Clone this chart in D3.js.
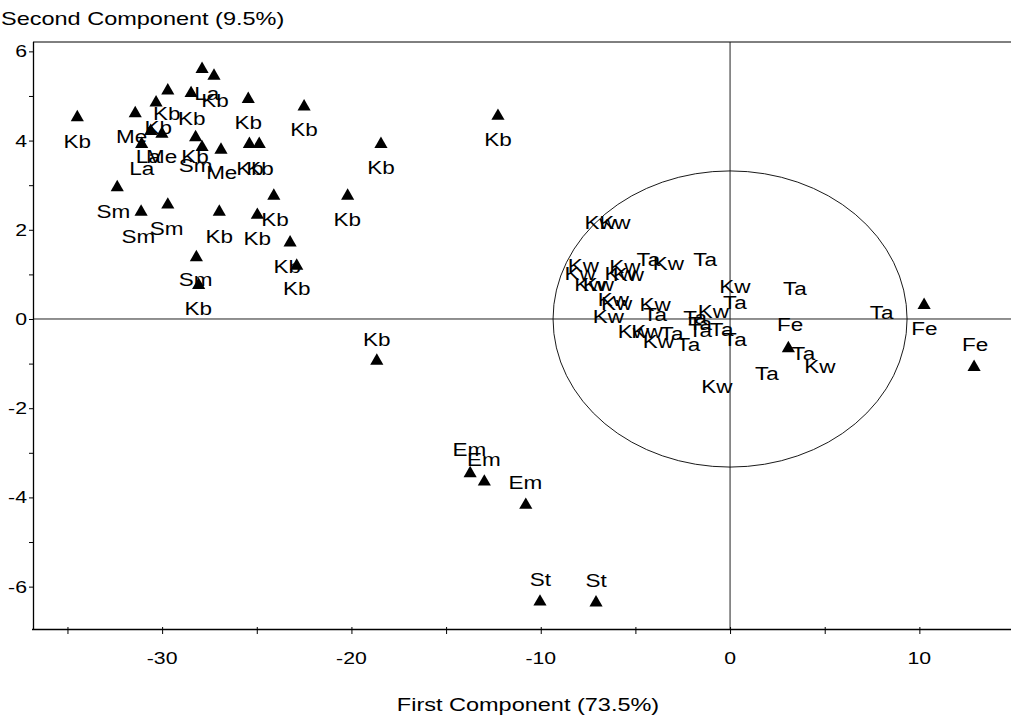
<!DOCTYPE html>
<html>
<head>
<meta charset="utf-8">
<script src="https://cdn.jsdelivr.net/npm/d3@7"></script>
<style>
  html, body { margin: 0; padding: 0; background: #fff; }
  svg { display: block; }
  text { font-family: "Liberation Sans", Arial, sans-serif; fill: #000; }
</style>
</head>
<body>
<svg id="chart" width="1011" height="719"></svg>
<script>
// ---- data (PCA scores) ----
const markerX = [-34.48,-31.42,-30.32,-29.70,-28.47,-27.89,-27.26,-25.45,-22.50,-30.60,-30.01,-28.23,-31.08,-27.89,-26.89,-25.39,-24.87,-32.37,-31.11,-29.70,-26.98,-24.10,-24.97,-20.20,-23.24,-22.89,-28.19,-28.07,-12.26,-18.44,-18.66,-13.73,-12.98,-10.79,-10.04,-7.08,3.08,10.25,12.89];
const markerY = [4.52,4.61,4.85,5.12,5.06,5.60,5.45,4.93,4.76,4.21,4.15,4.07,3.92,3.85,3.79,3.92,3.92,2.95,2.40,2.56,2.40,2.76,2.33,2.76,1.71,1.19,1.38,0.76,4.55,3.92,-0.94,-3.46,-3.65,-4.17,-6.34,-6.36,-0.66,0.31,-1.08];

const labelText = ["Kb","Me","Kb","Kb","Kb","La","Kb","Kb","Kb","La","La","Me","Kb","Sm","Me","Kb","Kb","Sm","Sm","Sm","Kb","Kb","Kb","Kb","Kb","Kb","Sm","Kb","Kb","Kb","Kb","Em","Em","Em","St","St","Fe","Fe","Ta",
  "Kw","Kw","Kw","Kw","Kw","Kw","Kw","Kw","Kw","Ta","Kw","Ta","Kw","Kw","Kw","Ta","Kw","Kw","Ta","Kw","Ta","Ta","Kw","Kw","Ta","Kw","Ta","Ta","Ta","Ta","Ta","Fe","Ta","Kw","Ta","Kw"];
const labelX = [-34.48,-31.61,-29.76,-28.44,-30.20,-27.64,-27.21,-25.45,-22.50,-31.08,-30.73,-30.02,-28.26,-28.23,-26.85,-25.36,-24.83,-32.58,-31.26,-29.76,-26.98,-24.97,-24.04,-20.22,-23.39,-22.89,-28.23,-28.09,-12.26,-18.44,-18.66,-13.77,-13.00,-10.81,-10.02,-7.08,10.26,12.94,8.01,
  -6.87,-6.08,-7.75,-7.92,-7.40,-6.96,-5.55,-5.37,-5.81,-4.32,-3.26,-1.32,-6.16,-5.99,-3.96,-3.96,-6.43,0.26,0.26,-0.88,-1.85,-1.58,-5.11,-4.40,-3.08,-3.79,-2.20,-1.58,-0.44,0.26,3.43,3.17,3.87,4.75,1.94,-0.70];
const labelY = [3.98,4.09,4.61,4.48,4.28,5.06,4.89,4.39,4.24,3.38,3.64,3.63,3.63,3.43,3.27,3.38,3.38,2.41,1.85,2.03,1.85,1.79,2.22,2.22,1.17,0.69,0.89,0.22,4.01,3.39,-0.46,-2.94,-3.16,-3.67,-5.84,-5.87,-0.22,-0.58,0.14,
  2.15,2.15,1.19,1.02,0.78,0.76,1.17,0.99,1.02,1.34,1.25,1.32,0.43,0.34,0.31,0.09,0.05,0.72,0.37,0.16,0.02,-0.10,-0.28,-0.28,-0.32,-0.51,-0.58,-0.26,-0.25,-0.47,0.67,-0.13,-0.77,-1.07,-1.22,-1.52];

const xTicks = [-35,-30,-25,-20,-15,-10,-5,0,5,10];
const xTickLabels = [-30,-20,-10,0,10];
const yTicks = [-6,-5,-4,-3,-2,-1,0,1,2,3,4,5,6];
const yTickLabels = [-6,-4,-2,0,2,4,6];
const ellipseR = [9.35, 3.32]; // confidence ellipse radii (x, y)
const xTitle = "First Component (73.5%)";
const yTitle = "Second Component (9.5%)";

// ---- layout ----
const svg = d3.select("#chart");
const pLeft = 33, pRight = 1011, pTop = 42, pBottom = 629;
const x = d3.scaleLinear().domain([-36.82, 14.84]).range([pLeft, pRight]);
const y = d3.scaleLinear().domain([-6.95, 6.21]).range([pBottom, pTop]);
const SX = 1.25; // horizontal text stretch seen in the reference

function stretchedText(g, px, py, txt, size, anchor) {
  return g.append("text")
    .attr("transform", `translate(${px},${py}) scale(${SX},1)`)
    .attr("text-anchor", anchor || "middle")
    .attr("dy", "0.35em")
    .style("font-size", size + "px")
    .text(txt);
}

// frame top line
svg.append("line").attr("x1", pLeft).attr("x2", pRight).attr("y1", pTop).attr("y2", pTop)
  .attr("stroke", "#000").attr("stroke-width", 1);

// zero lines
svg.append("line").attr("x1", pLeft).attr("x2", pRight).attr("y1", y(0)).attr("y2", y(0))
  .attr("stroke", "#222").attr("stroke-width", 1);
svg.append("line").attr("x1", x(0)).attr("x2", x(0)).attr("y1", pTop).attr("y2", pBottom)
  .attr("stroke", "#222").attr("stroke-width", 1);

// ellipse
svg.append("ellipse")
  .attr("cx", x(0)).attr("cy", y(0))
  .attr("rx", x(ellipseR[0]) - x(0)).attr("ry", y(0) - y(ellipseR[1]))
  .attr("fill", "none").attr("stroke", "#000").attr("stroke-width", 0.9);

// axes
const xAxis = d3.axisBottom(x).tickValues(xTicks).tickSize(5).tickFormat("");
const gx = svg.append("g").attr("transform", `translate(0,${pBottom})`).call(xAxis);
gx.select(".domain").attr("d", `M${pLeft - 1},0.5H${pRight}`).attr("stroke", "#000").attr("stroke-width", 1.3);
gx.selectAll(".tick line").attr("y1", -2).attr("stroke", "#000");
xTickLabels.forEach(v => stretchedText(svg, x(v), 658, String(v), 17));

const yAxis = d3.axisLeft(y).tickValues(yTicks).tickSize(4).tickFormat("");
const gy = svg.append("g").attr("transform", `translate(${pLeft},0)`).call(yAxis);
gy.select(".domain").attr("d", `M0.5,${pTop}V${pBottom}`).attr("stroke", "#000").attr("stroke-width", 1.3);
gy.selectAll(".tick line").attr("x1", 1).attr("stroke", "#000");
yTickLabels.forEach(v => stretchedText(svg, 27, y(v), String(v), 17, "end"));

// titles
stretchedText(svg, 1, 18, yTitle, 18.8, "start");
stretchedText(svg, 528, 704, xTitle, 18.8);

// markers
const tri = d3.symbol().type(d3.symbolTriangle).size(75);
svg.append("g").selectAll("path")
  .data(d3.range(markerX.length))
  .join("path")
  .attr("d", tri)
  .attr("transform", i => `translate(${x(markerX[i])},${y(markerY[i])})`)
  .attr("fill", "#000");

// labels
const gl = svg.append("g");
labelText.forEach((t, i) => stretchedText(gl, x(labelX[i]), y(labelY[i]), t, 18));
</script>
</body>
</html>
